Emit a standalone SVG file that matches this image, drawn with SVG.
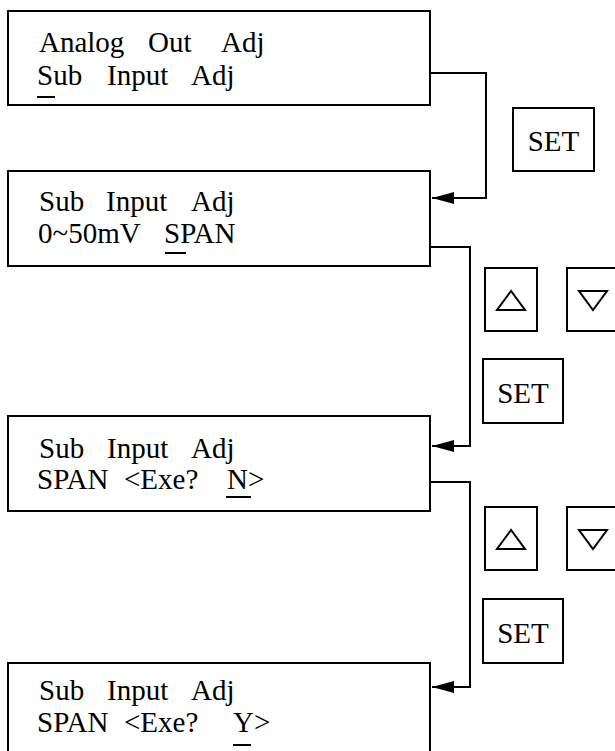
<svg xmlns="http://www.w3.org/2000/svg" width="615" height="751" viewBox="0 0 615 751">
<style>
.box{fill:#fff;stroke:#000;stroke-width:2}
.btn{fill:#fff;stroke:#000;stroke-width:2}
.tri{fill:none;stroke:#000;stroke-width:2;stroke-linejoin:miter}
.t{font-family:"Liberation Serif","Times New Roman",serif;font-size:29px;fill:#000}
.c{text-anchor:middle}
.u{stroke:#000;stroke-width:2}
.con{fill:none;stroke:#000;stroke-width:2}
</style>
<defs>
<marker id="arr" markerUnits="userSpaceOnUse" markerWidth="24" markerHeight="14" refX="22" refY="7" orient="auto">
<path d="M0,1 L22,7 L0,13 z" fill="#000"/>
</marker>
</defs>
<rect width="615" height="751" fill="#fff"/>

<g id="box1">
<rect class="box" x="8" y="11" width="422" height="94"/>
<text class="t" y="52"><tspan x="39">Analog</tspan><tspan x="148">Out</tspan><tspan x="221">Adj</tspan></text>
<text class="t" y="85"><tspan x="37">Sub</tspan><tspan x="107">Input</tspan><tspan x="191">Adj</tspan></text>
<line class="u" x1="37" y1="97" x2="55" y2="97"/>
</g>

<g id="box2">
<rect class="box" x="8" y="171" width="422" height="95"/>
<text class="t" y="211"><tspan x="39">Sub</tspan><tspan x="106">Input</tspan><tspan x="191">Adj</tspan></text>
<text class="t" y="243"><tspan x="38">0~50mV</tspan><tspan x="164">SPAN</tspan></text>
<line class="u" x1="165" y1="253" x2="186" y2="253"/>
</g>

<g id="box3">
<rect class="box" x="8" y="416" width="422" height="95"/>
<text class="t" y="458"><tspan x="39">Sub</tspan><tspan x="107">Input</tspan><tspan x="191">Adj</tspan></text>
<text class="t" y="489"><tspan x="37">SPAN</tspan><tspan x="124">&lt;Exe?</tspan><tspan x="227">N&gt;</tspan></text>
<line class="u" x1="226" y1="497" x2="251" y2="497"/>
</g>

<g id="box4">
<rect class="box" x="8" y="663" width="422" height="100"/>
<text class="t" y="700"><tspan x="39">Sub</tspan><tspan x="107">Input</tspan><tspan x="191">Adj</tspan></text>
<text class="t" y="732"><tspan x="37">SPAN</tspan><tspan x="124">&lt;Exe?</tspan><tspan x="233">Y&gt;</tspan></text>
<line class="u" x1="233" y1="745" x2="251" y2="745"/>
</g>

<g id="set1">
<rect class="btn" x="513" y="108" width="81" height="63"/>
<text class="t c" x="553.5" y="151">SET</text>
</g>

<g id="up1">
<rect class="btn" x="485" y="268" width="52" height="63"/>
<polygon class="tri" points="497,310 525,310 511,291"/>
</g>
<g id="down1">
<rect class="btn" x="567" y="268" width="52" height="63"/>
<polygon class="tri" points="579,291 607,291 593,310"/>
</g>
<g id="set2">
<rect class="btn" x="483" y="359" width="80" height="64"/>
<text class="t c" x="523" y="403">SET</text>
</g>

<g id="up2">
<rect class="btn" x="485" y="507" width="52" height="63"/>
<polygon class="tri" points="497,549 525,549 511,530"/>
</g>
<g id="down2">
<rect class="btn" x="567" y="507" width="52" height="63"/>
<polygon class="tri" points="579,530 607,530 593,549"/>
</g>
<g id="set3">
<rect class="btn" x="483" y="599" width="80" height="64"/>
<text class="t c" x="523" y="643">SET</text>
</g>

<g id="connectors">
<path class="con" d="M430,73 H486 V198 H432" marker-end="url(#arr)"/>
<path class="con" d="M430,247 H470 V446 H432" marker-end="url(#arr)"/>
<path class="con" d="M430,482 H470 V687 H432" marker-end="url(#arr)"/>
</g>
</svg>
